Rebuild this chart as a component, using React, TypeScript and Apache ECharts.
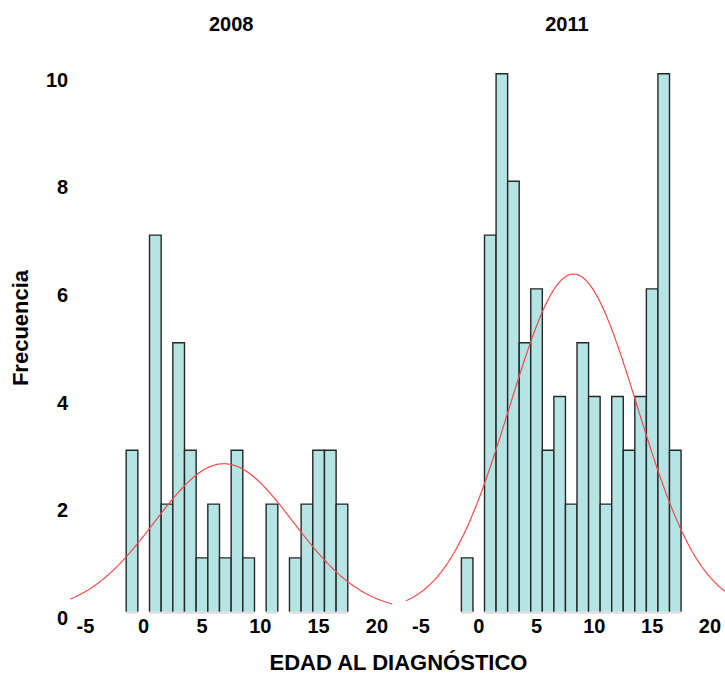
import React, { useEffect, useRef } from "react";
import * as echarts from "echarts";

// Histogram bins (unit width, centred on whole years) and their counts per year
const BINS = [-1, 0, 1, 2, 3, 4, 5, 6, 7, 8, 9, 10, 11, 12, 13, 14, 15, 16, 17];
const COUNTS_2008 = [3, 0, 7, 2, 5, 3, 1, 2, 1, 3, 1, 0, 2, 0, 1, 2, 3, 3, 2];
const COUNTS_2011 = [1, 0, 7, 10, 8, 5, 6, 3, 4, 2, 5, 4, 2, 4, 3, 4, 6, 10, 3];

const PANEL_TITLES = ["2008", "2011"];
const X_TICKS = [-5, 0, 5, 10, 15, 20];
const Y_TICKS = [0, 2, 4, 6, 8, 10];
const X_MIN = -6.3;
const X_MAX = 21.3;
const BIN_WIDTH = 1;

const FONT = "'Liberation Sans', Arial, sans-serif";

// Fitted normal curve (grouped mean and sample sd), scaled to counts per bin
function normalCurve(bins: number[], counts: number[]): number[][] {
  const n = counts.reduce((a, b) => a + b, 0);
  const mean = bins.reduce((s, b, i) => s + b * counts[i], 0) / n;
  const ss = bins.reduce((s, b, i) => s + counts[i] * (b - mean) ** 2, 0);
  const sd = Math.sqrt(ss / (n - 1));
  const pts: number[][] = [];
  const steps = 276;
  for (let k = 0; k <= steps; k++) {
    const x = X_MIN + ((X_MAX - X_MIN) * k) / steps;
    const z = (x - mean) / sd;
    const y = (n * BIN_WIDTH * Math.exp(-0.5 * z * z)) / (sd * Math.sqrt(2 * Math.PI));
    pts.push([x, y]);
  }
  return pts;
}

function barData(bins: number[], counts: number[]): number[][] {
  return bins.map((b, i) => [b, counts[i]]).filter((d) => d[1] > 0);
}

const renderBar = (_params: any, api: any) => {
  const x = api.value(0);
  const c = api.value(1);
  const tl = api.coord([x - BIN_WIDTH / 2, c]);
  const br = api.coord([x + BIN_WIDTH / 2, 0]);
  return {
    type: "group",
    children: [
      {
        type: "rect",
        shape: { x: tl[0], y: tl[1], width: br[0] - tl[0], height: br[1] - tl[1] },
        style: { fill: "#b4e4e4" },
      },
      {
        type: "polyline",
        shape: {
          points: [
            [tl[0], br[1]],
            [tl[0], tl[1]],
            [br[0], tl[1]],
            [br[0], br[1]],
          ],
        },
        style: { stroke: "#262626", lineWidth: 1.4, fill: null },
      },
      {
        type: "line",
        shape: { x1: tl[0], y1: br[1] + 1, x2: br[0], y2: br[1] + 1 },
        style: { stroke: "#dcdcdc", lineWidth: 2 },
      },
    ],
  };
};

export default function App() {
  const ref = useRef<HTMLDivElement>(null);

  useEffect(() => {
    document.body.style.margin = "0";
    if (!ref.current) return;
    const chart = echarts.init(ref.current, null, { renderer: "svg" });

    const grids = [
      { left: 70.2, top: 73.7, width: 321.9, height: 538 },
      { left: 405.9, top: 73.7, width: 321.9, height: 538 },
    ];
    const datasets = [COUNTS_2008, COUNTS_2011];

    const option: any = {
      animation: false,
      backgroundColor: "#ffffff",
      grid: grids,
      xAxis: grids.map((_, i) => ({
        type: "value",
        gridIndex: i,
        min: X_MIN,
        max: X_MAX,
        axisLine: { show: false },
        axisTick: { show: false },
        splitLine: { show: false },
        axisLabel: {
          customValues: X_TICKS,
          color: "#000",
          fontFamily: FONT,
          fontWeight: "bold",
          fontSize: 20,
          margin: 4,
        },
      })),
      yAxis: grids.map((_, i) => ({
        type: "value",
        gridIndex: i,
        min: Y_TICKS[0],
        max: Y_TICKS[Y_TICKS.length - 1],
        interval: Y_TICKS[1] - Y_TICKS[0],
        axisLine: { show: false },
        axisTick: { show: false },
        splitLine: { show: false },
        axisLabel: {
          show: i === 0,
          margin: 2,
          formatter: "{t|{value}}",
          rich: {
            t: {
              color: "#000",
              fontFamily: FONT,
              fontWeight: "bold",
              fontSize: 20,
              padding: [12, 0, 0, 0],
            },
          },
        },
      })),
      series: [
        ...datasets.map((counts, i) => ({
          type: "custom",
          xAxisIndex: i,
          yAxisIndex: i,
          clip: false,
          renderItem: renderBar,
          data: barData(BINS, counts),
          z: 2,
        })),
        ...datasets.map((counts, i) => ({
          type: "line",
          xAxisIndex: i,
          yAxisIndex: i,
          data: normalCurve(BINS, counts),
          showSymbol: false,
          symbol: "none",
          smooth: false,
          lineStyle: { color: "#f24b4b", width: 1.2 },
          z: 5,
        })),
      ],
      graphic: [
        ...PANEL_TITLES.map((t, i) => ({
          type: "text",
          x: grids[i].left + grids[i].width / 2,
          y: 24,
          style: {
            text: t,
            fill: "#000",
            font: `bold 20px ${FONT}`,
            align: "center",
            verticalAlign: "middle",
          },
        })),
        {
          type: "text",
          x: 20.5,
          y: 328,
          rotation: Math.PI / 2,
          style: {
            text: "Frecuencia",
            fill: "#000",
            font: `bold 22px ${FONT}`,
            align: "center",
            verticalAlign: "middle",
          },
        },
        {
          type: "text",
          x: 398.5,
          y: 662,
          style: {
            text: "EDAD AL DIAGNÓSTICO",
            fill: "#000",
            font: `bold 22px ${FONT}`,
            align: "center",
            verticalAlign: "middle",
          },
        },
      ],
    };

    chart.setOption(option);
    return () => chart.dispose();
  }, []);

  return <div ref={ref} style={{ width: 725, height: 675 }} />;
}
